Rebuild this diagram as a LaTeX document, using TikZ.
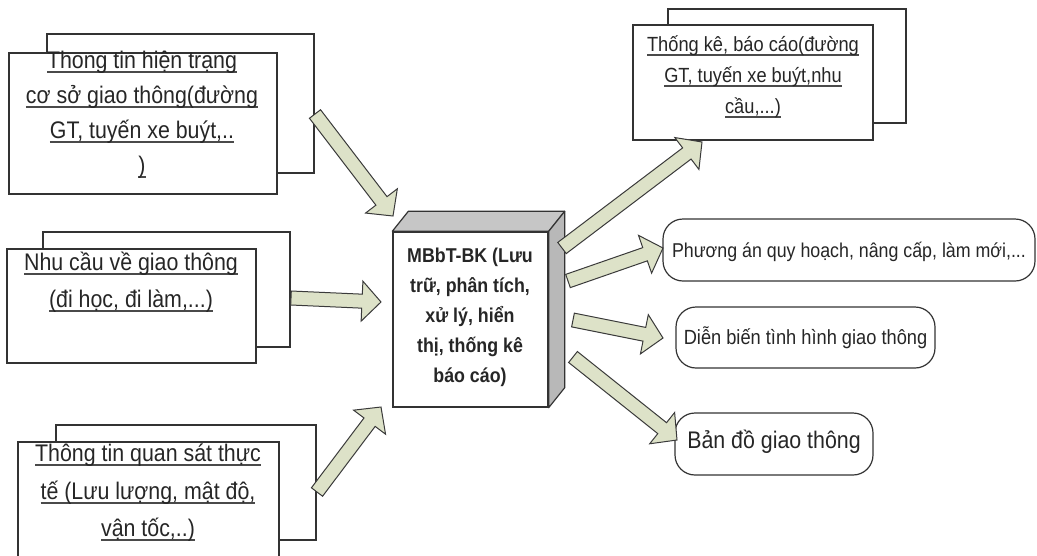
\documentclass[tikz,border=0pt]{standalone}
\usepackage{fontspec}
\setmainfont{Liberation Sans}[FakeStretch=0.89]
\usetikzlibrary{calc}

\definecolor{linec}{HTML}{333333}
\definecolor{arrowfill}{HTML}{DDE2C8}
\definecolor{arrowline}{HTML}{3A3A3A}
\definecolor{topface}{HTML}{C6C6C6}
\definecolor{sideface}{HTML}{B8B8B8}
\definecolor{ulc}{HTML}{4A4A4A}

% underlined line of text with a fixed underline depth
\newcommand\uln[1]{\setbox0\hbox{#1}\rlap{\color{ulc}\rule[-4.5pt]{\wd0}{2.2pt}}\box0}

% wide block arrow from tail #1 to tip #2
\newcommand\fatarrow[2]{%
  \coordinate (fa-base) at ($(#2)!19pt!(#1)$);
  \draw[blockarrow] ($(#1)!7pt!90:(#2)$) -- ($(fa-base)!7pt!90:(#2)$)
    -- ($(fa-base)!20pt!90:(#2)$) -- (#2) -- ($(fa-base)!20pt!-90:(#2)$)
    -- ($(fa-base)!7pt!-90:(#2)$) -- ($(#1)!7pt!-90:(#2)$) -- cycle;}

\tikzset{
  backbox/.style={draw=linec, line width=1.4pt, fill=white, inner sep=0pt},
  frontbox/.style={draw=linec, line width=1.4pt, fill=white, inner sep=0pt},
  roundbox/.style={draw=linec, line width=1.2pt, fill=white, rounded corners=20pt, inner sep=0pt},
  blockarrow/.style={fill=arrowfill, draw=arrowline, line width=1pt, line join=miter},
  boxtext/.style={align=center, inner sep=0pt, text=black!85, font={\fontsize{24}{35}\selectfont}},
  outtext/.style={align=center, inner sep=0pt, text=black!85, font={\fontsize{20.5}{31}\selectfont}},
  coretext/.style={align=center, inner sep=0pt, text=black!85, font={\bfseries\fontsize{20}{30}\selectfont}},
}

\begin{document}
\begin{tikzpicture}[x=1pt, y=-1pt]
\useasboundingbox (0,0) rectangle (1037,555);
\clip (0,0) rectangle (1037,555);

% input boxes (stacked sheets)
\node[backbox, minimum width=267pt, minimum height=139pt] (b1back) at (180.5,103.5) {};
\node[frontbox, minimum width=268pt, minimum height=141pt] (b1) at (143,123.5) {};
\node[boxtext] (t1) at (142,115) {\uln{Thong tin hiện trạng}\\\uln{cơ sở giao thông(đường}\\\uln{GT, tuyến xe buýt,..}\\\uln{)}};

\node[backbox, minimum width=247pt, minimum height=115pt] (b2back) at (166.5,289.5) {};
\node[frontbox, minimum width=249pt, minimum height=114pt] (b2) at (131.5,306) {};
\node[boxtext, font={\fontsize{24}{37}\selectfont}] (t2) at (131,282) {\uln{Nhu cầu về giao thông}\\\uln{(đi học, đi làm,...)}};

\node[backbox, minimum width=260pt, minimum height=115pt] (b3back) at (186,482.5) {};
\node[frontbox, minimum width=261pt, minimum height=128pt] (b3) at (148.5,506) {};
\node[boxtext, font={\fontsize{24}{37.5}\selectfont}] (t3) at (148,493) {\uln{Thông tin quan sát thực}\\\uln{tế (Lưu lượng, mật độ,}\\\uln{vận tốc,..)}};

% output sheet
\node[backbox, minimum width=238pt, minimum height=114pt] (oback) at (787,66) {};
\node[frontbox, minimum width=240pt, minimum height=115pt] (o1) at (753,82.5) {};
\node[outtext] (t4) at (753,77) {\uln{Thống kê, báo cáo(đường}\\\uln{GT, tuyến xe buýt,nhu}\\\uln{cầu,...)}};

% central block
\node[frontbox, minimum width=155pt, minimum height=175pt] (core) at (470.5,319.5) {};
\fill[topface, draw=linec, line width=1.2pt, line join=round]
  (core.north west) -- ++(16,-20) -- ($(core.north east)+(16,-20)$) -- (core.north east) -- cycle;
\fill[sideface, draw=linec, line width=1.2pt, line join=round]
  (core.north east) -- ++(16,-20) -- ($(core.south east)+(16,-20)$) -- (core.south east) -- cycle;
\node[coretext] (t5) at (470,317) {MBbT-BK (Lưu\\trữ, phân tích,\\xử lý, hiển\\thị, thống kê\\báo cáo)};

% result boxes
\node[roundbox, minimum width=372pt, minimum height=62pt] (ra) at (849,250) {};
\node[outtext, font={\fontsize{20}{24}\selectfont}] (ta) at (849,252) {Phương án quy hoạch, nâng cấp, làm mới,...};
\node[roundbox, minimum width=259pt, minimum height=61pt] (rb) at (805.5,337.5) {};
\node[outtext, font={\fontsize{20.5}{24}\selectfont}] (tb) at (805.5,338) {Diễn biến tình hình giao thông};
\node[roundbox, minimum width=198pt, minimum height=62pt] (rc) at (774,444) {};
\node[outtext, font={\fontsize{24}{28}\selectfont}] (tc) at (774,442) {Bản đồ giao thông};

% arrow end points
\coordinate (a1s) at (315,114);  \coordinate (a1e) at (393,216);
\coordinate (a2s) at (291,298);  \coordinate (a2e) at (381,302);
\coordinate (a3s) at (317,492);  \coordinate (a3e) at (381,407);
\coordinate (a4s) at (562,248);  \coordinate (a4e) at (702,142);
\coordinate (a5s) at (568,281);  \coordinate (a5e) at (663,248);
\coordinate (a6s) at (573,320);  \coordinate (a6e) at (663,338);
\coordinate (a7s) at (573,357);  \coordinate (a7e) at (677,440);

\fatarrow{a1s}{a1e}
\fatarrow{a2s}{a2e}
\fatarrow{a3s}{a3e}
\fatarrow{a4s}{a4e}
\fatarrow{a5s}{a5e}
\fatarrow{a6s}{a6e}
\fatarrow{a7s}{a7e}
\end{tikzpicture}
\end{document}
